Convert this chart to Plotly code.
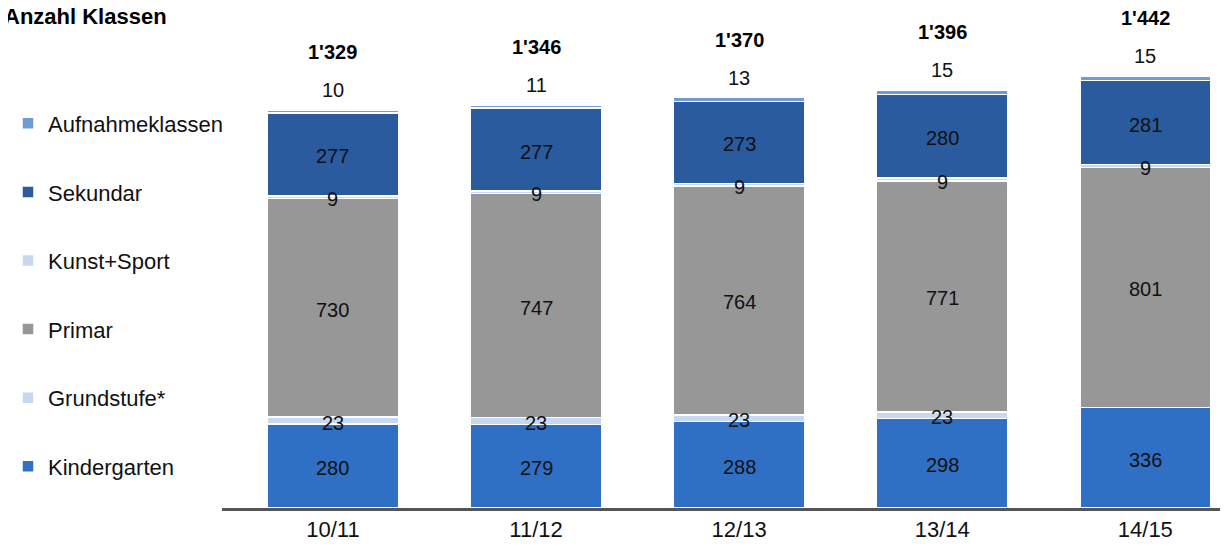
import plotly.graph_objects as go

years = ["10/11", "11/12", "12/13", "13/14", "14/15"]
series_names = ["Kindergarten", "Grundstufe*", "Primar", "Kunst+Sport", "Sekundar", "Aufnahmeklassen"]
kindergarten = [280, 279, 288, 298, 336]
grundstufe = [23, 23, 23, 23, 0]
primar = [730, 747, 764, 771, 801]
kunst_sport = [9, 9, 9, 9, 9]
sekundar = [277, 277, 273, 280, 281]
aufnahme = [10, 11, 13, 15, 15]
totals = ["1'329", "1'346", "1'370", "1'396", "1'442"]

colors = ["#2F6FC4", "#C6D9F1", "#979797", "#C6D9F1", "#2A5B9E", "#6F9BD7"]
values = [kindergarten, grundstufe, primar, kunst_sport, sekundar, aufnahme]

FAM = "Liberation Sans, Arial"

fig = go.Figure()
for k, (name, vals, col) in enumerate(zip(series_names, values, colors)):
    fig.add_trace(go.Bar(x=years, y=vals, name=name, legendgroup=name,
                         legendrank=100 - k,
                         marker=dict(color=col, line=dict(color="white", width=1.5))))

annotations = []
font = dict(family=FAM, size=20, color="#111")
for i, yr in enumerate(years):
    base = 0
    for k, vals in enumerate(values):
        v = vals[i]
        if k == len(values) - 1:
            annotations.append(dict(x=yr, y=base + v, text=str(v), showarrow=False,
                                    yshift=20, font=font))
        elif v > 0:
            annotations.append(dict(x=yr, y=base + v / 2, text=str(v), showarrow=False,
                                    yshift=-2, font=font))
        base += v
    annotations.append(dict(x=yr, y=base, text="<b>%s</b>" % totals[i], showarrow=False,
                            yshift=58, font=dict(family=FAM, size=20, color="#000")))

annotations.append(dict(xref="paper", yref="paper", x=-0.2185, y=0.984, xanchor="left",
                        yanchor="middle", text="<b>Anzahl Klassen</b>", showarrow=False,
                        font=dict(family=FAM, size=22, color="#000")))

fig.update_layout(
    width=1228, height=556,
    margin=dict(l=214, r=8, t=0, b=56, autoexpand=False),
    barmode="stack", bargap=0.355,
    plot_bgcolor="white", paper_bgcolor="white",
    annotations=annotations,
    legend=dict(traceorder="grouped", xref="container", yref="container",
                x=0, y=0.83, xanchor="left", yanchor="top", maxheight=556,
                tracegroupgap=37, itemwidth=30,
                font=dict(family=FAM, size=22, color="#111")),
    xaxis=dict(showline=True, linecolor="#555", linewidth=3, ticks="", automargin=False,
               range=[-0.546, 4.407],
               tickfont=dict(family=FAM, size=22, color="#111")),
    yaxis=dict(range=[0, 1669], visible=False, automargin=False),
)

fig.write_html("out.html")
